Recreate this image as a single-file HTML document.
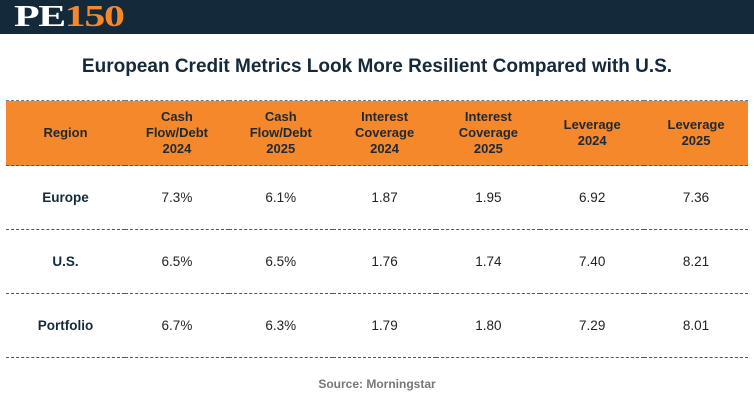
<!DOCTYPE html>
<html><head><meta charset="utf-8"><style>
body{margin:0;width:754px;height:404px;background:#fff;font-family:"Liberation Sans",sans-serif;position:relative;overflow:hidden}
.top{position:absolute;left:0;top:0;width:754px;height:34px;background:#142a3a}
.logo{position:absolute;left:14px;top:1px;font-family:"Liberation Serif",serif;font-weight:bold;font-size:31px;letter-spacing:-1px;line-height:30px;transform:scaleX(1.35);transform-origin:left top}
.logo .pe{color:#fff}.logo .n{color:#f5882a}
.title{position:absolute;left:0;top:56px;width:754px;text-align:center;font-weight:bold;font-size:19px;color:#142a3a}
table{position:absolute;left:6px;top:100px;border-collapse:collapse;table-layout:fixed;width:742px}
th{background:#f5882a;color:#1c2a38;font-size:13px;font-weight:bold;line-height:16px;height:64px;padding:0;border-top:1px dashed #777;border-bottom:1px dashed #555}
td{height:63px;padding:0;text-align:center;font-size:13.5px;color:#222;border-bottom:1px dashed #555}
td.r{font-weight:bold;color:#142a3a}
.src{position:absolute;left:0;top:377px;width:754px;text-align:center;font-size:12px;font-weight:bold;color:#777}
</style></head><body>
<div class="top"><div class="logo"><span class="pe">PE</span><span class="n">150</span></div></div>
<div class="title">European Credit Metrics Look More Resilient Compared with U.S.</div>
<table>
<colgroup><col style="width:119px"><col span="6" style="width:103.8px"></colgroup>
<tr><th>Region</th><th>Cash<br>Flow/Debt<br>2024</th><th>Cash<br>Flow/Debt<br>2025</th><th>Interest<br>Coverage<br>2024</th><th>Interest<br>Coverage<br>2025</th><th>Leverage<br>2024</th><th>Leverage<br>2025</th></tr>
<tr><td class="r">Europe</td><td>7.3%</td><td>6.1%</td><td>1.87</td><td>1.95</td><td>6.92</td><td>7.36</td></tr>
<tr><td class="r">U.S.</td><td>6.5%</td><td>6.5%</td><td>1.76</td><td>1.74</td><td>7.40</td><td>8.21</td></tr>
<tr><td class="r">Portfolio</td><td>6.7%</td><td>6.3%</td><td>1.79</td><td>1.80</td><td>7.29</td><td>8.01</td></tr>
</table>
<div class="src">Source: Morningstar</div>
</body></html>
